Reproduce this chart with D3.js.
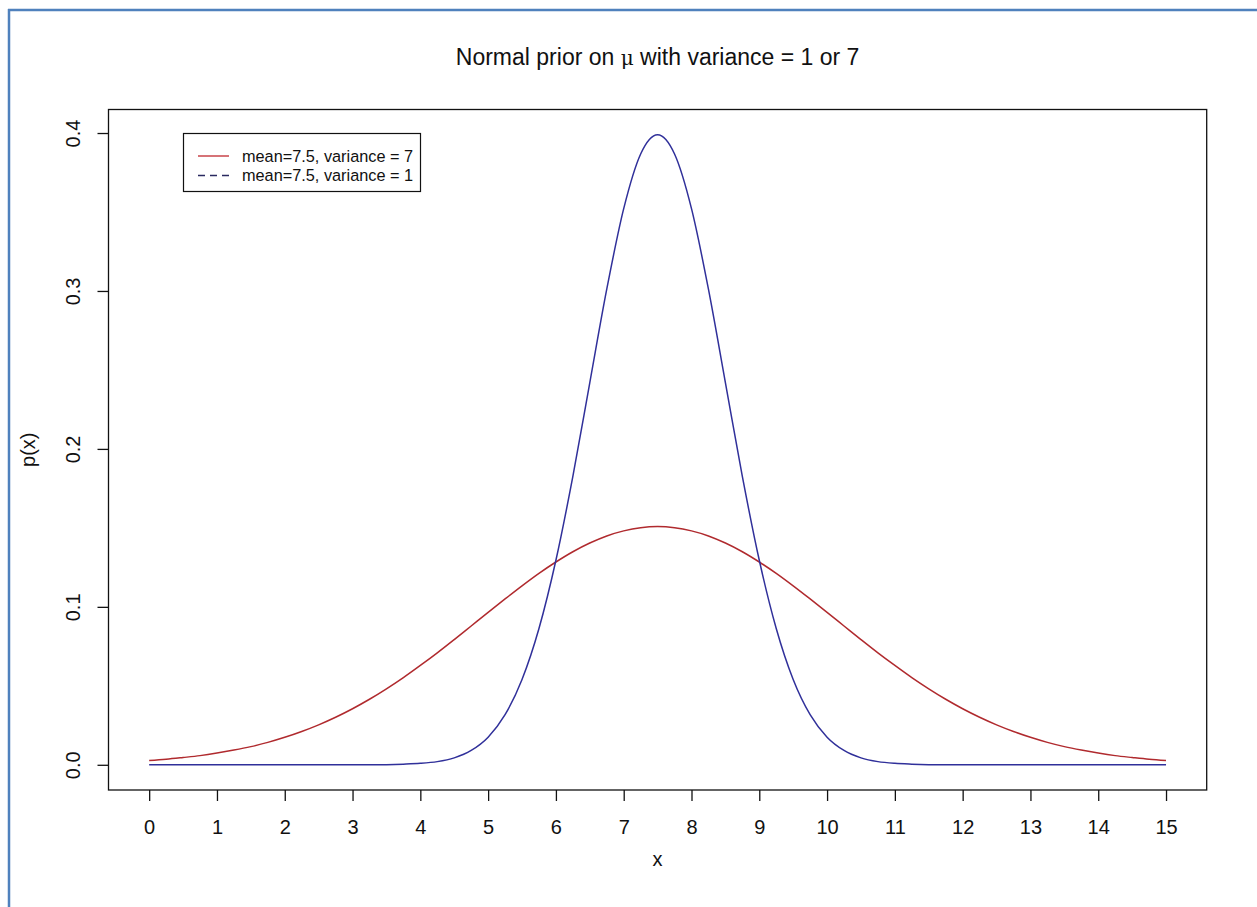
<!DOCTYPE html>
<html>
<head>
<meta charset="utf-8">
<script src="https://cdn.jsdelivr.net/npm/d3@7"></script>
<style>
  html, body { margin: 0; padding: 0; background: #fff; }
  svg { display: block; }
  text { font-family: "Liberation Sans", Arial, sans-serif; fill: #111; }
</style>
</head>
<body>
<svg id="chart" width="1257" height="907"></svg>
<script>
// ---- data ----
const xValues = [0,0.25,0.5,0.75,1,1.25,1.5,1.75,2,2.25,2.5,2.75,3,3.25,3.5,3.75,4,4.25,4.5,4.75,5,5.25,5.5,5.75,6,6.25,6.5,6.75,7,7.25,7.5,
  7.75,8,8.25,8.5,8.75,9,9.25,9.5,9.75,10,10.25,10.5,10.75,11,11.25,11.5,11.75,12,12.25,12.5,12.75,13,13.25,13.5,13.75,14,14.25,14.5,14.75,15];
const variance7 = [0.0027,0.0035,0.0046,0.0058,0.0074,0.0093,0.0115,0.0142,0.0174,0.0211,0.0253,0.0301,0.0355,0.0415,0.0481,0.0552,0.0629,0.0709,0.0793,0.0879,0.0965,0.1050,0.1133,0.1212,0.1284,0.1349,0.1404,0.1449,0.1481,0.1501,0.1508,
  0.1501,0.1481,0.1449,0.1404,0.1349,0.1284,0.1212,0.1133,0.1050,0.0965,0.0879,0.0793,0.0709,0.0629,0.0552,0.0481,0.0415,0.0355,0.0301,0.0253,0.0211,0.0174,0.0142,0.0115,0.0093,0.0074,0.0058,0.0046,0.0035,0.0027];
const variance1 = [0,0,0,0,0,0,0,0,0,0,0,0,0,0,0.0001,0.0004,0.0009,0.0020,0.0044,0.0091,0.0175,0.0317,0.0540,0.0863,0.1295,0.1826,0.2420,0.3011,0.3521,0.3867,0.3989,
  0.3867,0.3521,0.3011,0.2420,0.1826,0.1295,0.0863,0.0540,0.0317,0.0175,0.0091,0.0044,0.0020,0.0009,0.0004,0.0001,0,0,0,0,0,0,0,0,0,0,0,0,0,0];
const xTicks = [0,1,2,3,4,5,6,7,8,9,10,11,12,13,14,15];
const yTicks = [0.0,0.1,0.2,0.3,0.4];
const legendLabels = ["mean=7.5, variance = 7", "mean=7.5, variance = 1"];
const titleText = ["Normal prior on ", "\u03bc", " with variance = 1 or 7"];

// ---- drawing ----
const svg = d3.select("#chart");
const L = 108.5, R = 1206.7, T = 109.5, B = 790;
const FONT = "Liberation Sans, Arial, sans-serif";

// page frame (top and left)
svg.append("line").attr("x1", 8).attr("x2", 1257).attr("y1", 10).attr("y2", 10)
  .attr("stroke", "#4f81bd").attr("stroke-width", 2.5);
svg.append("line").attr("x1", 9).attr("x2", 9).attr("y1", 9).attr("y2", 907)
  .attr("stroke", "#4f81bd").attr("stroke-width", 2.5);

const x = d3.scaleLinear().domain([-0.6, 15.6]).range([L, R]);
const y = d3.scaleLinear().domain([-0.01596, 0.41489]).range([B, T]);

// box
svg.append("rect").attr("x", L).attr("y", T).attr("width", R - L).attr("height", B - T)
  .attr("fill", "none").attr("stroke", "#111").attr("stroke-width", 1.3);

// x axis
const xAxis = d3.axisBottom(x).tickValues(xTicks).tickFormat(d3.format("d")).tickSize(11).tickPadding(19);
const gx = svg.append("g").attr("transform", `translate(0,${B})`).call(xAxis);
gx.select(".domain").remove();
gx.selectAll("line").attr("stroke", "#111").attr("stroke-width", 1.3);
gx.selectAll("text").attr("font-size", 20).attr("font-family", FONT).attr("fill", "#111");

// y axis
const yAxis = d3.axisLeft(y).tickValues(yTicks).tickFormat(d3.format(".1f")).tickSize(11);
const gy = svg.append("g").attr("transform", `translate(${L},0)`).call(yAxis);
gy.select(".domain").remove();
gy.selectAll("line").attr("stroke", "#111").attr("stroke-width", 1.3);
gy.selectAll("text")
  .attr("font-size", 20).attr("font-family", FONT).attr("fill", "#111")
  .attr("x", null).attr("y", null).attr("dy", null)
  .attr("text-anchor", "middle")
  .attr("transform", `translate(${80 - L},0) rotate(-90)`);

// axis titles
svg.append("text").attr("x", (L + R) / 2).attr("y", 866).attr("text-anchor", "middle")
  .attr("font-size", 20).text("x");
svg.append("text").attr("transform", `translate(35,${(T + B) / 2}) rotate(-90)`).attr("text-anchor", "middle")
  .attr("font-size", 20).text("p(x)");

// title
const title = svg.append("text").attr("x", (L + R) / 2).attr("y", 65).attr("text-anchor", "middle")
  .attr("font-size", 23);
title.append("tspan").text(titleText[0]);
title.append("tspan").attr("font-family", "DejaVu Serif, serif").attr("font-size", 20).text(titleText[1]);
title.append("tspan").text(titleText[2]);

// curves
const pts7 = xValues.map((v, i) => [v, variance7[i]]);
const pts1 = xValues.map((v, i) => [v, variance1[i]]);
const line = d3.line().x(d => x(d[0])).y(d => y(d[1])).curve(d3.curveMonotoneX);
svg.append("path").attr("d", line(pts7)).attr("fill", "none").attr("stroke", "#b02a2e").attr("stroke-width", 1.5);
svg.append("path").attr("d", line(pts1)).attr("fill", "none").attr("stroke", "#30309a").attr("stroke-width", 1.5);

// legend
const lg = svg.append("g");
lg.append("rect").attr("x", 183.5).attr("y", 133.5).attr("width", 237).attr("height", 58)
  .attr("fill", "#fff").attr("stroke", "#111").attr("stroke-width", 1.2);
const legendStyles = [{ c: "#c0282d", dash: null }, { c: "#2a2a60", dash: "7,5" }];
legendLabels.forEach((lab, i) => {
  const yy = 156 + i * 19.5;
  lg.append("line").attr("x1", 198).attr("x2", 229).attr("y1", yy).attr("y2", yy)
    .attr("stroke", legendStyles[i].c).attr("stroke-width", 1.3)
    .attr("stroke-dasharray", legendStyles[i].dash);
  lg.append("text").attr("x", 242).attr("y", yy + 5.5).attr("font-size", 16.3).text(lab);
});
</script>
</body>
</html>
